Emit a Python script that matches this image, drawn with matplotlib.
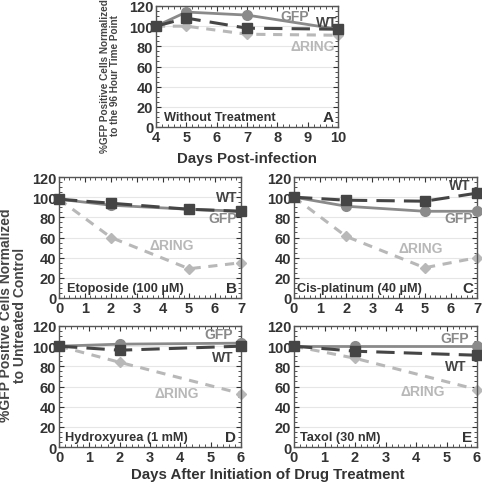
import matplotlib
matplotlib.use("Agg")
import matplotlib.pyplot as plt
from matplotlib.ticker import AutoMinorLocator, MultipleLocator

plt.rcParams['font.family'] = ['Liberation Sans', 'DejaVu Sans']
plt.rcParams['font.weight'] = 'bold'

# Data
days_a = [4, 5, 7, 10]
gfp_a = [100, 114, 111, 97]
wt_a = [100, 108, 98, 97]
ring_a = [100, 100, 92, 91]

days_b = [0, 2, 5, 7]
gfp_b = [98, 92, 88, 86]
wt_b = [98, 94, 88, 86]
ring_b = [98, 60, 29, 35]

days_c = [0, 2, 5, 7]
gfp_c = [100, 91, 86, 86]
wt_c = [100, 97, 96, 104]
ring_c = [100, 61, 30, 40]

days_d = [0, 2, 6]
gfp_d = [100, 102, 103]
wt_d = [100, 96, 100]
ring_d = [100, 84, 53]

days_e = [0, 2, 6]
gfp_e = [100, 100, 100]
wt_e = [100, 95, 91]
ring_e = [100, 88, 57]

GFP_C = '#8a8a8a'
WT_C = '#454545'
RING_C = '#b8b8b8'
TXT = '#333333'

W, H = 482, 485
fig = plt.figure(figsize=(W / 100, H / 100), dpi=100)


def ax_at(x0, x1, y0, y1):
    return fig.add_axes([x0 / W, 1 - y1 / H, (x1 - x0) / W, (y1 - y0) / H])


def style(ax, xlim, xticks):
    ax.set_xlim(*xlim)
    ax.set_ylim(0, 120)
    ax.set_xticks(xticks)
    ax.yaxis.set_major_locator(MultipleLocator(20))
    ax.xaxis.set_minor_locator(AutoMinorLocator(5))
    ax.yaxis.set_minor_locator(AutoMinorLocator(4))
    ax.tick_params(which='both', direction='in', top=True, right=True,
                   labelsize=10.5, pad=2, color='#333333')
    ax.tick_params(which='major', length=3.5)
    ax.tick_params(which='minor', length=2)
    for lab in ax.get_xticklabels() + ax.get_yticklabels():
        lab.set_fontweight('bold')
        lab.set_color(TXT)
    ax.grid(axis='y', color='#e6e6e6', lw=0.8)
    ax.set_axisbelow(True)
    for s in ax.spines.values():
        s.set_color('#555555')
        s.set_linewidth(1.0)


def draw(ax, x, gfp, wt, ring):
    ax.plot(x, gfp, color=GFP_C, lw=2, marker='o', ms=7, zorder=3, clip_on=False)
    ax.plot(x, wt, color=WT_C, lw=2.2, ls=(0, (6, 3)), marker='s', ms=7, zorder=4, clip_on=False)
    ax.plot(x, ring, color=RING_C, lw=2.2, ls=(0, (3, 2.5)), marker='D', ms=5.5, zorder=2, clip_on=False)


def label(ax, x, y, s, color, ha='left', size=10):
    ax.text(x, y, s, color=color, fontsize=size, fontweight='bold', ha=ha, va='center')


PS = 9.2  # panel caption size

# Panel A
axA = ax_at(156, 338, 7, 128)
style(axA, (4, 10), [4, 5, 6, 7, 8, 9, 10])
draw(axA, days_a, gfp_a, wt_a, ring_a)
label(axA, 8.1, 110, 'GFP', GFP_C)
label(axA, 9.97, 104, 'WT', WT_C, ha='right')
label(axA, 9.9, 80, '\u0394RING', RING_C, ha='right')
label(axA, 4.25, 10, 'Without Treatment', TXT, size=PS)
label(axA, 9.85, 10, 'A', TXT, ha='right', size=11)
axA.set_xlabel('Days Post-infection', fontsize=10.8, fontweight='bold',
               color=TXT, labelpad=5)
axA.set_ylabel('%GFP Positive Cells Normalized\nto the 96 Hour Time Point', fontsize=7.2,
               fontweight='bold', color='#444444', linespacing=1.0)
axA.yaxis.set_label_coords(-0.2, 0.43)

# Panel B
axB = ax_at(59, 241, 178, 299)
style(axB, (0, 7), range(8))
draw(axB, days_b, gfp_b, wt_b, ring_b)
label(axB, 6.85, 100, 'WT', WT_C, ha='right')
label(axB, 6.85, 79, 'GFP', GFP_C, ha='right')
label(axB, 3.5, 53, '\u0394RING', RING_C)
label(axB, 0.3, 10, 'Etoposide (100 \u00b5M)', TXT, size=PS)
label(axB, 6.85, 10, 'B', TXT, ha='right', size=11)

# Panel C
axC = ax_at(294, 477, 178, 299)
style(axC, (0, 7), range(8))
draw(axC, days_c, gfp_c, wt_c, ring_c)
label(axC, 6.75, 112, 'WT', WT_C, ha='right')
label(axC, 6.85, 79, 'GFP', GFP_C, ha='right')
label(axC, 4.0, 50, '\u0394RING', RING_C)
label(axC, 0.1, 10, 'Cis-platinum (40 \u00b5M)', TXT, size=PS)
label(axC, 6.85, 10, 'C', TXT, ha='right', size=11)

# Panel D
axD = ax_at(59, 241, 327, 448)
style(axD, (0, 6), range(7))
draw(axD, days_d, gfp_d, wt_d, ring_d)
label(axD, 5.75, 112, 'GFP', GFP_C, ha='right')
label(axD, 5.75, 89, 'WT', WT_C, ha='right')
label(axD, 3.15, 54, '\u0394RING', RING_C)
label(axD, 0.2, 10, 'Hydroxyurea (1 mM)', TXT, size=PS)
label(axD, 5.85, 10, 'D', TXT, ha='right', size=11)

# Panel E
axE = ax_at(294, 477, 327, 448)
style(axE, (0, 6), range(7))
draw(axE, days_e, gfp_e, wt_e, ring_e)
label(axE, 5.75, 108, 'GFP', GFP_C, ha='right')
label(axE, 5.65, 80, 'WT', WT_C, ha='right')
label(axE, 3.5, 56, '\u0394RING', RING_C)
label(axE, 0.2, 10, 'Taxol (30 nM)', TXT, size=PS)
label(axE, 5.85, 10, 'E', TXT, ha='right', size=11)

fig.text(268 / W, 1 - 475 / H, 'Days After Initiation of Drug Treatment',
         fontsize=10.8, fontweight='bold', color=TXT, ha='center', va='center')
fig.text(13 / W, 1 - 315 / H, '%GFP Positive Cells Normalized\nto Untreated Control', fontsize=10,
         fontweight='bold', color='#444444', ha='center', va='center', rotation=90, linespacing=1.0)

fig.savefig('out.png', dpi=100)
